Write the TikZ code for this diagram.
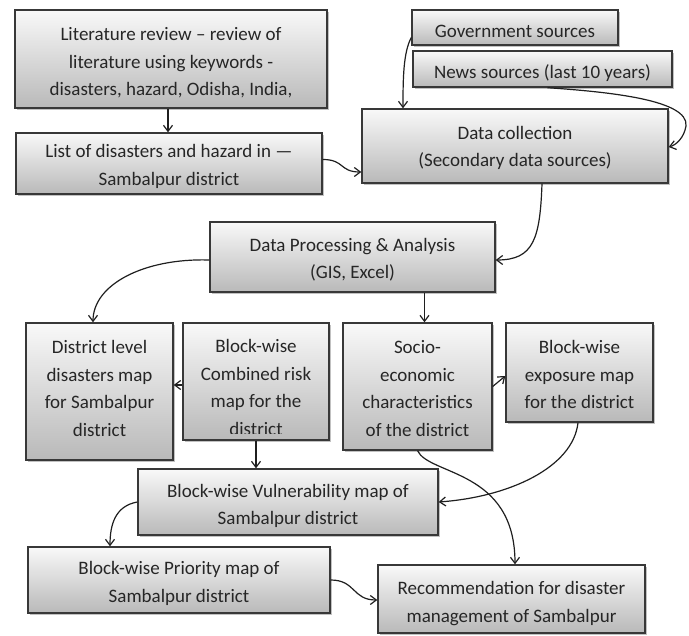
\documentclass[tikz,border=0pt]{standalone}
\usepackage{fontspec}
\setmainfont{Carlito}
\usetikzlibrary{arrows.meta,shadows}
\tikzset{
  boxfont/.style={font=\fontsize{19}{27.5}\selectfont},
  box/.style={draw=black!78, line width=1.4pt, top color=gray!5, bottom color=gray!55,
    drop shadow={shadow xshift=2pt, shadow yshift=-2pt, opacity=0.35, fill=black!70},
    inner sep=0pt},
  txt/.style={text=black!85, align=center, inner sep=0pt, boxfont},
  arr/.style={draw=black!88, line width=1.2pt, -{Straight Barb[length=6pt,width=9pt,line width=1.2pt]}},
}
\begin{document}
\begin{tikzpicture}[x=1pt,y=-1pt]
\useasboundingbox (0,0) rectangle (689,636);

% top
\node[box, minimum width=312pt, minimum height=98pt] (lit) at (171,59) {};
\node[txt] (littxt) at ([yshift=-4pt]lit.center)
  {Literature review -- review of\\literature using keywords -\\disasters, hazard, Odisha, India,};
\node[box, minimum width=306pt, minimum height=61pt] (list) at (169,163.5) {};
\node[txt] (listtxt) at ([yshift=-3pt]list.center)
  {List of disasters and hazard in ---\\Sambalpur district};
\node[box, minimum width=206pt, minimum height=35pt] (gov) at (515,27.5) {};
\node[txt] (govtxt) at ([yshift=-4pt]gov.center) {Government sources};
\node[box, minimum width=259pt, minimum height=36pt] (news) at (542.5,69) {};
\node[txt] (newstxt) at ([yshift=-4pt]news.center) {News sources (last 10 years)};
\node[box, minimum width=306pt, minimum height=74pt] (dc) at (515,146) {};
\node[txt] (dctxt) at ([yshift=-2pt]dc.center) {Data collection\\(Secondary data sources)};
\node[box, minimum width=285pt, minimum height=70pt] (dpa) at (352.5,257) {};
\node[txt] (dpatxt) at ([yshift=-2.5pt]dpa.center) {Data Processing \& Analysis\\(GIS, Excel)};

% middle row (text top aligned)
\node[box, minimum width=147pt, minimum height=137pt] (dist) at (99.5,391.5) {};
\node[txt, anchor=north] (disttxt) at ([yshift=-18pt]dist.north)
  {District level\\disasters map\\for Sambalpur\\district};
\node[box, minimum width=146pt, minimum height=117pt] (comb) at (256,381.5) {};
\begin{scope}
  \clip ([yshift=7pt]comb.south west) rectangle (comb.north east);
  \node[txt, anchor=north] (combtxt) at ([yshift=-17pt]comb.north)
    {Block-wise\\Combined risk\\map for the\\district};
\end{scope}
\node[box, minimum width=149pt, minimum height=127pt] (socio) at (417.5,386.5) {};
\node[txt, anchor=north] (sociotxt) at ([yshift=-18pt]socio.north)
  {Socio-\\economic\\characteristics\\of the district};
\node[box, minimum width=147pt, minimum height=99pt] (expo) at (579.5,372.5) {};
\node[txt, anchor=north] (expotxt) at ([yshift=-18pt]expo.north)
  {Block-wise\\exposure map\\for the district};

% bottom
\node[box, minimum width=300pt, minimum height=66pt] (vuln) at (288,502) {};
\node[txt] (vulntxt) at ([yshift=-4pt]vuln.center)
  {Block-wise Vulnerability map of\\Sambalpur district};
\node[box, minimum width=302pt, minimum height=66pt] (prio) at (179,580) {};
\node[txt] (priotxt) at ([yshift=-3.5pt]prio.center)
  {Block-wise Priority map of\\Sambalpur district};
\node[box, minimum width=267pt, minimum height=68pt] (rec) at (511.5,599) {};
\node[txt] (rectxt) at ([yshift=-4.5pt]rec.center)
  {Recommendation for disaster\\management of Sambalpur};

% connectors
\draw[arr] ([xshift=-3pt]lit.south) -- ([xshift=-3pt]lit.south |- list.north);
\draw[arr] ([yshift=4pt]list.east) .. controls +(22,0) and +(-22,0) .. ([yshift=-26pt]dc.west);
\draw[arr] ([yshift=-10pt]gov.west) .. controls +(-8,15) and +(0,-30) .. ([xshift=-112pt]dc.north);
\draw[arr] ([xshift=5pt]news.south) .. controls (610,92) and (689,100) .. (686,126)
  .. controls (684,138) and (676,145) .. ([yshift=-1pt]dc.east);
\draw[arr] ([xshift=27pt]dc.south) .. controls +(-2,55) and +(38,0) .. ([yshift=-3pt]dpa.east);
\draw[arr] ([yshift=-3pt]dpa.west) .. controls +(-65,-2) and +(0,-38) .. ([xshift=-6.5pt]dist.north);
\draw[arr] ([xshift=72pt]dpa.south) -- ([xshift=72pt]dpa.south |- socio.north);
\draw[arr] ([yshift=-3.5pt]comb.west) -- ([yshift=-3.5pt]comb.west -| dist.east);
\draw[arr] (socio.east) -- ([yshift=-3.5pt]expo.west);
\draw[arr] (comb.south) -- (comb.south |- vuln.north);
\draw[arr] (vuln.west) .. controls +(-22,4) and +(0,-22) .. ([xshift=-69pt]prio.north);
\draw[arr] ([xshift=-1.5pt]expo.south) .. controls +(-5,45) and +(70,-5) .. (vuln.east);
\draw[arr] (socio.south) .. controls +(12,25) and +(0,-95) .. ([xshift=3.5pt]rec.north);
\draw[arr] (prio.east) .. controls +(25,0) and +(-25,0) .. ([yshift=-1pt]rec.west);
\end{tikzpicture}
\end{document}
